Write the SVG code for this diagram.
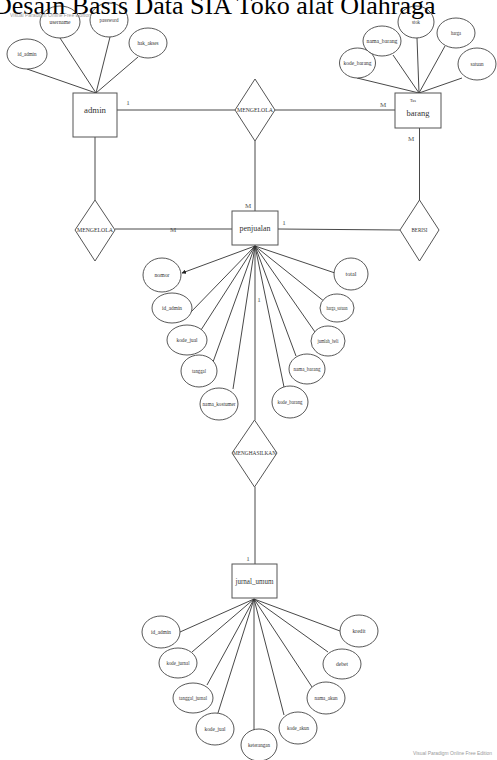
<svg xmlns="http://www.w3.org/2000/svg" width="497" height="760" viewBox="0 0 497 760">
  <style>
    .bg { fill: #ffffff; }
    .title { font-family: "Liberation Serif", "Times New Roman", serif; font-size: 26px; fill: #000; }
    .wm { font-family: "Liberation Sans", Arial, sans-serif; font-size: 5px; fill: #9a9a9a; }
    .ent rect { fill: #fff; stroke: #555; stroke-width: 1; }
    .rel polygon { fill: #fff; stroke: #555; stroke-width: 1; }
    .attr ellipse { fill: #fff; stroke: #444; stroke-width: 0.9; }
    .lbl { font-family: "Liberation Serif", "Times New Roman", serif; fill: #333; text-anchor: middle; }
    .at { font-size: 6px; }
    .en { font-size: 9px; }
    .rl { font-size: 6px; }
    .card { font-family: "Liberation Serif", "Times New Roman", serif; font-size: 7px; fill: #555; text-anchor: middle; }
    #connectors line { stroke: #333; stroke-width: 0.9; }
  </style>
  <defs>
    <marker id="arrow" viewBox="0 0 10 10" refX="9" refY="5" markerWidth="5" markerHeight="5" orient="auto">
      <path d="M0,0 L10,5 L0,10 z" fill="#222"/>
    </marker>
  </defs>

  <rect class="bg" x="0" y="0" width="497" height="760"/>

  <!-- connectors -->
  <g id="connectors">
    <!-- relationships -->
    <line x1="117" y1="110" x2="235" y2="110"/>
    <line x1="275" y1="110" x2="395" y2="110"/>
    <line x1="255" y1="141" x2="255" y2="211"/>
    <line x1="95" y1="137" x2="95" y2="200"/>
    <line x1="115" y1="229" x2="232" y2="229"/>
    <line x1="278" y1="229" x2="400" y2="230"/>
    <line x1="419.5" y1="128" x2="419.5" y2="200"/>
    <line x1="255" y1="245" x2="255" y2="420"/>
    <line x1="255" y1="487" x2="255" y2="564"/>

    <!-- admin attributes -->
    <line x1="96" y1="93" x2="27" y2="69"/>
    <line x1="96" y1="93" x2="60" y2="38"/>
    <line x1="96" y1="93" x2="110" y2="37"/>
    <line x1="96" y1="93" x2="138" y2="57"/>

    <!-- barang attributes -->
    <line x1="419" y1="93" x2="357" y2="78"/>
    <line x1="419" y1="93" x2="393" y2="55"/>
    <line x1="419" y1="93" x2="417" y2="38"/>
    <line x1="419" y1="93" x2="445" y2="46"/>
    <line x1="419" y1="93" x2="462" y2="78"/>

    <!-- penjualan attributes -->
    <line x1="255" y1="246" x2="182" y2="273" marker-end="url(#arrow)"/>
    <line x1="255" y1="246" x2="190" y2="313"/>
    <line x1="255" y1="246" x2="201" y2="330"/>
    <line x1="255" y1="246" x2="213" y2="362"/>
    <line x1="255" y1="246" x2="233" y2="389"/>
    <line x1="255" y1="246" x2="284" y2="387"/>
    <line x1="255" y1="246" x2="296" y2="356"/>
    <line x1="255" y1="246" x2="315" y2="332"/>
    <line x1="255" y1="246" x2="325" y2="302"/>
    <line x1="255" y1="246" x2="335" y2="273"/>

    <!-- jurnal_umum attributes -->
    <line x1="254" y1="599" x2="180" y2="632"/>
    <line x1="254" y1="599" x2="192" y2="652"/>
    <line x1="254" y1="599" x2="207" y2="685"/>
    <line x1="254" y1="599" x2="217" y2="716"/>
    <line x1="254" y1="599" x2="254" y2="730"/>
    <line x1="254" y1="599" x2="284" y2="715"/>
    <line x1="254" y1="599" x2="312" y2="687"/>
    <line x1="254" y1="599" x2="328" y2="652"/>
    <line x1="254" y1="599" x2="340" y2="631"/>
  </g>

  <!-- cardinalities -->
  <g id="cardinalities">
    <text class="card" x="128" y="105">1</text>
    <text class="card" x="383" y="107">M</text>
    <text class="card" x="411" y="141">M</text>
    <text class="card" x="248" y="208">M</text>
    <text class="card" x="284" y="225">1</text>
    <text class="card" x="173" y="232">M</text>
    <text class="card" x="259" y="302">1</text>
    <text class="card" x="248" y="561">1</text>
  </g>

  <!-- entities -->
  <g id="admin" class="ent">
    <rect x="73" y="93" width="44" height="44"/>
    <text class="lbl en" x="95" y="113" textLength="22" lengthAdjust="spacingAndGlyphs">admin</text>
  </g>
  <g id="barang" class="ent">
    <rect x="395" y="93" width="46" height="35"/>
    <text class="lbl" x="413" y="102" style="font-size:4px" textLength="6" lengthAdjust="spacingAndGlyphs">Tas</text>
    <text class="lbl en" x="418" y="116" textLength="23" lengthAdjust="spacingAndGlyphs">barang</text>
  </g>
  <g id="penjualan" class="ent">
    <rect x="232" y="211" width="46" height="34"/>
    <text class="lbl en" x="255" y="231" textLength="31" lengthAdjust="spacingAndGlyphs">penjualan</text>
  </g>
  <g id="jurnal_umum" class="ent">
    <rect x="232" y="564" width="45" height="34"/>
    <text class="lbl en" x="254.5" y="584" textLength="38" lengthAdjust="spacingAndGlyphs">jurnal_umum</text>
  </g>

  <!-- relationships -->
  <g id="mengelola_barang" class="rel">
    <polygon points="255,79 275,110 255,141 235,110"/>
    <text class="lbl rl" x="255" y="112" textLength="36" lengthAdjust="spacingAndGlyphs">MENGELOLA</text>
  </g>
  <g id="mengelola_penjualan" class="rel">
    <polygon points="95,200 115,230 95,261 75,230"/>
    <text class="lbl rl" x="95" y="232" textLength="36" lengthAdjust="spacingAndGlyphs">MENGELOLA</text>
  </g>
  <g id="berisi" class="rel">
    <polygon points="419.5,200 439,230 419.5,261 400,230"/>
    <text class="lbl rl" x="419.5" y="232" textLength="16" lengthAdjust="spacingAndGlyphs">BERISI</text>
  </g>
  <g id="menghasilkan" class="rel">
    <polygon points="254.5,420 277,453 254.5,487 232,453"/>
    <text class="lbl rl" x="254.5" y="455" textLength="43" lengthAdjust="spacingAndGlyphs">MENGHASILKAN</text>
  </g>

  <!-- admin attributes -->
  <g id="admin_id_admin" class="attr"><ellipse cx="27" cy="54" rx="20" ry="15"/><text class="lbl at" x="27" y="56" textLength="19" lengthAdjust="spacingAndGlyphs">id_admin</text></g>
  <g id="admin_username" class="attr"><ellipse cx="60" cy="22" rx="20" ry="16"/><text class="lbl at" x="60" y="24" textLength="21" lengthAdjust="spacingAndGlyphs">username</text></g>
  <g id="admin_password" class="attr"><ellipse cx="109" cy="20" rx="19" ry="17"/><text class="lbl at" x="109" y="22" textLength="19" lengthAdjust="spacingAndGlyphs">password</text></g>
  <g id="admin_hak_akses" class="attr"><ellipse cx="148" cy="43" rx="19" ry="15"/><text class="lbl at" x="148" y="45" textLength="21" lengthAdjust="spacingAndGlyphs">hak_akses</text></g>

  <!-- barang attributes -->
  <g id="barang_kode_barang" class="attr"><ellipse cx="357.5" cy="63" rx="18" ry="15"/><text class="lbl at" x="357.5" y="65" textLength="28" lengthAdjust="spacingAndGlyphs">kode_barang</text></g>
  <g id="barang_nama_barang" class="attr"><ellipse cx="382" cy="41" rx="19" ry="15"/><text class="lbl at" x="382" y="43" textLength="31" lengthAdjust="spacingAndGlyphs">nama_barang</text></g>
  <g id="barang_stok" class="attr"><ellipse cx="416" cy="22" rx="18" ry="16"/><text class="lbl at" x="416" y="24" textLength="8" lengthAdjust="spacingAndGlyphs">stok</text></g>
  <g id="barang_harga" class="attr"><ellipse cx="456" cy="33" rx="19" ry="15"/><text class="lbl at" x="456" y="35" textLength="10" lengthAdjust="spacingAndGlyphs">harga</text></g>
  <g id="barang_satuan" class="attr"><ellipse cx="477" cy="64" rx="19" ry="16"/><text class="lbl at" x="477" y="66" textLength="13" lengthAdjust="spacingAndGlyphs">satuan</text></g>

  <!-- penjualan attributes -->
  <g id="penjualan_nomor" class="attr"><ellipse cx="162" cy="275" rx="19" ry="17"/><text class="lbl at" x="162" y="277" textLength="15" lengthAdjust="spacingAndGlyphs">nomor</text></g>
  <g id="penjualan_id_admin" class="attr"><ellipse cx="172" cy="308" rx="20" ry="15"/><text class="lbl at" x="172" y="310" textLength="20" lengthAdjust="spacingAndGlyphs">id_admin</text></g>
  <g id="penjualan_kode_jual" class="attr"><ellipse cx="187" cy="340" rx="20" ry="15"/><text class="lbl at" x="187" y="342" textLength="21" lengthAdjust="spacingAndGlyphs">kode_jual</text></g>
  <g id="penjualan_tanggal" class="attr"><ellipse cx="199" cy="371" rx="18" ry="16"/><text class="lbl at" x="199" y="373" textLength="14" lengthAdjust="spacingAndGlyphs">tanggal</text></g>
  <g id="penjualan_nama_kostumer" class="attr"><ellipse cx="219" cy="404" rx="19" ry="16"/><text class="lbl at" x="219" y="406" textLength="33" lengthAdjust="spacingAndGlyphs">nama_kostumer</text></g>
  <g id="penjualan_kode_barang" class="attr"><ellipse cx="290" cy="402" rx="18" ry="16"/><text class="lbl at" x="290" y="404" textLength="25" lengthAdjust="spacingAndGlyphs">kode_barang</text></g>
  <g id="penjualan_nama_barang" class="attr"><ellipse cx="307" cy="369" rx="18" ry="15"/><text class="lbl at" x="307" y="371" textLength="27" lengthAdjust="spacingAndGlyphs">nama_barang</text></g>
  <g id="penjualan_jumlah_beli" class="attr"><ellipse cx="328" cy="341" rx="17" ry="15"/><text class="lbl at" x="328" y="343" textLength="21" lengthAdjust="spacingAndGlyphs">jumlah_beli</text></g>
  <g id="penjualan_harga_satuan" class="attr"><ellipse cx="337" cy="308" rx="17" ry="14"/><text class="lbl at" x="337" y="310" textLength="21" lengthAdjust="spacingAndGlyphs">harga_satuan</text></g>
  <g id="penjualan_total" class="attr"><ellipse cx="351" cy="274" rx="17" ry="16"/><text class="lbl at" x="351" y="276" textLength="11" lengthAdjust="spacingAndGlyphs">total</text></g>

  <!-- jurnal_umum attributes -->
  <g id="jurnal_id_admin" class="attr"><ellipse cx="161" cy="632" rx="19" ry="16"/><text class="lbl at" x="161" y="634" textLength="20" lengthAdjust="spacingAndGlyphs">id_admin</text></g>
  <g id="jurnal_kode_jurnal" class="attr"><ellipse cx="178" cy="663" rx="19" ry="15"/><text class="lbl at" x="178" y="665" textLength="23" lengthAdjust="spacingAndGlyphs">kode_jurnal</text></g>
  <g id="jurnal_tanggal_jurnal" class="attr"><ellipse cx="193" cy="698" rx="20" ry="15"/><text class="lbl at" x="193" y="700" textLength="28" lengthAdjust="spacingAndGlyphs">tanggal_jurnal</text></g>
  <g id="jurnal_kode_jual" class="attr"><ellipse cx="215" cy="729" rx="19" ry="16"/><text class="lbl at" x="215" y="731" textLength="21" lengthAdjust="spacingAndGlyphs">kode_jual</text></g>
  <g id="jurnal_keterangan" class="attr"><ellipse cx="259" cy="745" rx="18" ry="16"/><text class="lbl at" x="259" y="747" textLength="22" lengthAdjust="spacingAndGlyphs">keterangan</text></g>
  <g id="jurnal_kode_akun" class="attr"><ellipse cx="298" cy="728" rx="19" ry="16"/><text class="lbl at" x="298" y="730" textLength="22" lengthAdjust="spacingAndGlyphs">kode_akun</text></g>
  <g id="jurnal_nama_akun" class="attr"><ellipse cx="326" cy="698" rx="19" ry="16"/><text class="lbl at" x="326" y="700" textLength="23" lengthAdjust="spacingAndGlyphs">nama_akun</text></g>
  <g id="jurnal_debet" class="attr"><ellipse cx="342" cy="664" rx="19" ry="15"/><text class="lbl at" x="342" y="666" textLength="12" lengthAdjust="spacingAndGlyphs">debet</text></g>
  <g id="jurnal_kredit" class="attr"><ellipse cx="359" cy="631" rx="19" ry="16"/><text class="lbl at" x="359" y="633" textLength="13" lengthAdjust="spacingAndGlyphs">kredit</text></g>

  <!-- heading and edition marks, drawn last so they sit above the top ellipses -->
  <text class="title" x="-7" y="13.5">Desain Basis Data SIA Toko alat Olahraga</text>
  <text class="wm" x="10" y="17" textLength="81" lengthAdjust="spacingAndGlyphs">Visual Paradigm Online Free Edition</text>
  <text class="wm" x="413" y="755" textLength="79" lengthAdjust="spacingAndGlyphs">Visual Paradigm Online Free Edition</text>
</svg>
